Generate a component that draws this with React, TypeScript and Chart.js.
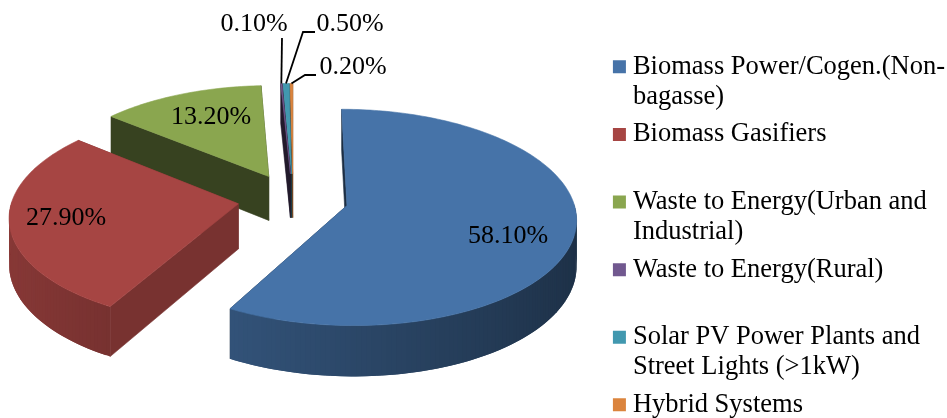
import React, { useEffect, useRef } from "react";
import { Chart, registerables } from "chart.js";

Chart.register(...registerables);

const categories: string[][] = [
  ["Biomass Power/Cogen.(Non-", "bagasse)"],
  ["Biomass Gasifiers", ""],
  ["Waste to Energy(Urban and", "Industrial)"],
  ["Waste to Energy(Rural)", ""],
  ["Solar PV Power Plants and", "Street Lights (>1kW)"],
  ["Hybrid Systems"],
];
const shares = [58.1, 27.9, 13.2, 0.1, 0.5, 0.2];
const sliceColors = ["#4673a8", "#a64543", "#8aa64f", "#71588f", "#4198af", "#db843d"];
const rayWallShade = [0.4, 0.72, 0.4, 0.3, 0.35, 0.5];
const labelAnchors = [
  [508, 236],
  [66, 218],
  [211, 117],
  [254, 24],
  [350, 24],
  [353, 67],
];
const leaderRoutes: (number[][] | null)[] = [
  null,
  null,
  null,
  [[282, 38]],
  [[303, 32], [315, 32]],
  [[305, 75], [316, 75]],
];

// camera of the tilted disc
const CX = 293, CY = 199, RX = 226, RY = 105.4, PERSP = 0.109, EXPLODE = 0.245, DEPTH = 45;

function project(u: number, v: number): [number, number, number] {
  const s = 1 / (1 - PERSP * v);
  return [CX + RX * u * s, CY + RY * v * s, DEPTH * s];
}
function shade(hex: string, f: number) {
  const n = parseInt(hex.slice(1), 16);
  const r = (n >> 16) & 255, g = (n >> 8) & 255, b = n & 255;
  return `rgb(${Math.round(r * f)},${Math.round(g * f)},${Math.round(b * f)})`;
}
function poly(ctx: CanvasRenderingContext2D, pts: number[][], fill: string, edge = true) {
  ctx.beginPath();
  pts.forEach((p, i) => (i ? ctx.lineTo(p[0], p[1]) : ctx.moveTo(p[0], p[1])));
  ctx.closePath();
  ctx.fillStyle = fill;
  ctx.fill();
  if (edge) {
    ctx.strokeStyle = fill;
    ctx.lineWidth = 0.6;
    ctx.stroke();
  }
}

const pie3d = {
  id: "pie3d",
  beforeDatasetsDraw(chart: any) {
    const ctx: CanvasRenderingContext2D = chart.ctx;
    const els = chart.getDatasetMeta(0).data;
    const slices = els.map((el: any, i: number) => {
      const a0 = el.startAngle + Math.PI / 2;
      const a1 = el.endAngle + Math.PI / 2;
      const mid = (a0 + a1) / 2;
      const ox = EXPLODE * Math.sin(mid);
      const oy = -EXPLODE * Math.cos(mid);
      const pt = (t: number, r: number) => project(ox + r * Math.sin(t), oy - r * Math.cos(t));
      return { i, a0, a1, mid, pt, color: el.options.backgroundColor as string };
    });
    const order = [...slices].sort((p: any, q: any) => -Math.cos(p.mid) - -Math.cos(q.mid));
    const down = (p: number[]) => [p[0], p[1] + p[2]];
    for (const s of order) {
      const apex = s.pt(0, 0);
      const first = s.pt(s.a0, 1);
      const last = s.pt(s.a1, 1);
      const wall = shade(s.color, rayWallShade[s.i]);
      poly(ctx, [apex, last, down(last), down(apex)], wall);
      poly(ctx, [apex, first, down(first), down(apex)], wall);
      const steps = Math.max(2, Math.ceil((s.a1 - s.a0) / 0.02));
      const rim: number[][] = [];
      for (let k = 0; k <= steps; k++) rim.push(s.pt(s.a0 + ((s.a1 - s.a0) * k) / steps, 1));
      for (let k = 0; k < steps; k++) {
        const t = s.a0 + ((s.a1 - s.a0) * (k + 0.5)) / steps;
        if (Math.cos(t) > 0.02) continue;
        const next = rim[Math.min(k + 2, steps)];
        poly(ctx, [rim[k], next, down(next), down(rim[k])], shade(s.color, 0.62 - 0.2 * Math.sin(t)), false);
      }
      poly(ctx, [apex, ...rim], s.color);
    }
    ctx.font = '26px "Liberation Serif"';
    ctx.textAlign = "center";
    ctx.textBaseline = "middle";
    slices.forEach((s: any) => {
      const [lx, ly] = labelAnchors[s.i];
      const route = leaderRoutes[s.i];
      if (route) {
        const start = s.pt(s.mid, 1);
        ctx.beginPath();
        ctx.moveTo(start[0], start[1]);
        route.forEach((p) => ctx.lineTo(p[0], p[1]));
        ctx.strokeStyle = "#000";
        ctx.lineWidth = 1.8;
        ctx.stroke();
      }
      ctx.fillStyle = "#000";
      ctx.fillText(`${shares[s.i].toFixed(2)}%`, lx, ly);
    });
    return false;
  },
};

export default function App() {
  const ref = useRef<HTMLCanvasElement | null>(null);
  useEffect(() => {
    const chart = new Chart(ref.current as HTMLCanvasElement, {
      type: "pie",
      data: {
        labels: categories as any,
        datasets: [{ data: shares, backgroundColor: sliceColors, borderWidth: 0 }],
      },
      plugins: [pie3d as any],
      options: {
        responsive: false,
        animation: false,
        events: [],
        layout: { padding: { top: 46, right: 15 } },
        plugins: {
          tooltip: { enabled: false },
          legend: {
            position: "right",
            align: "start",
            labels: {
              usePointStyle: true,
              pointStyle: "rect",
              boxWidth: 0.5,
              boxHeight: 13,
              padding: 7.6,
              color: "#000",
              font: { family: '"Liberation Serif"', size: 26.5, lineHeight: 30 / 26.5 },
            },
          },
        },
      },
    } as any);
    return () => chart.destroy();
  }, []);
  return (
    <div style={{ position: "fixed", left: 0, top: 0, width: 947, height: 418, overflow: "hidden", background: "#fff" }}>
      <canvas ref={ref} width={970} height={470} style={{ display: "block" }} />
    </div>
  );
}
